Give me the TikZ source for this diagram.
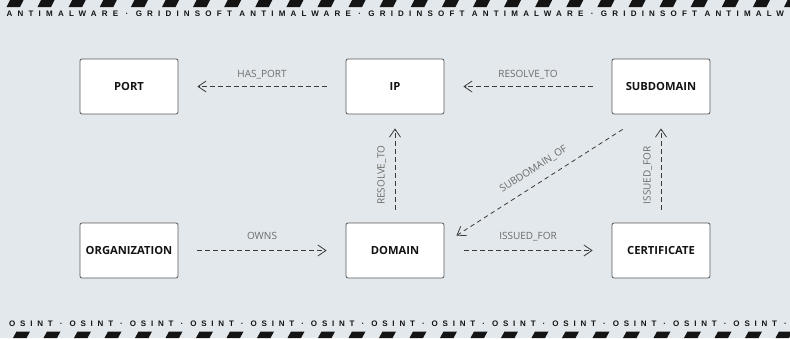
\documentclass[tikz,border=0pt]{standalone}
\usepackage{fontspec}
\setmainfont{Open Sans}
\newfontfamily\bannerA[LetterSpace=65]{Liberation Sans}
\newfontfamily\bannerB[LetterSpace=60]{Liberation Sans}
\usetikzlibrary{arrows.meta,calc}
\definecolor{bg}{HTML}{E3E8EC}
\definecolor{stripe}{HTML}{141414}
\definecolor{boxborder}{HTML}{5A5A5A}
\definecolor{boxtext}{HTML}{141414}
\definecolor{arrowc}{HTML}{3A3A3A}
\definecolor{lblc}{HTML}{6A6A6A}
\begin{document}
\begin{tikzpicture}[x=1pt,y=-1pt,
  entity/.style={draw=boxborder, fill=white, rounded corners=2pt, line width=0.8pt,
    minimum width=98pt, minimum height=55pt, inner sep=0pt,
    font=\fontsize{11.2}{13}\selectfont\bfseries, text=boxtext},
  rel/.style={draw=arrowc, line width=0.8pt, dash pattern=on 4.5pt off 3.5pt,
    -{Straight Barb[length=8pt,width=11pt]}},
  lbl/.style={font=\fontsize{10}{12}\selectfont, text=lblc, inner xsep=0pt,
    text depth=0pt, anchor=south},
  band/.style={fill=stripe, draw=none},
  bandtext/.style={anchor=base west, inner sep=0pt, text=stripe}
]
\path[use as bounding box, fill=bg] (0,0) rectangle (790,338);
\begin{scope}
  \clip (0,0) rectangle (790,338);
  \foreach \i in {0,...,26} {
    \fill[band] ({6.5+31.1*\i+3.5},0) -- ({6.5+31.1*\i+17},0) -- ({6.5+31.1*\i+13.5},7) -- ({6.5+31.1*\i},7) -- cycle;
  }
  \foreach \i in {0,...,26} {
    \fill[band] ({13+30.5*\i+3.5},331.5) -- ({13+30.5*\i+17},331.5) -- ({13+30.5*\i+13.5},338) -- ({13+30.5*\i},338) -- cycle;
  }
  \node[bandtext, font=\bannerA\fontsize{8}{9}\selectfont\bfseries] (toptext) at (6.5,16.7)
    {ANTIMALWARE · GRIDINSOFT ANTIMALWARE · GRIDINSOFT ANTIMALWARE · GRIDINSOFT ANTIMALW};
  \node[bandtext, font=\bannerB\fontsize{8}{9}\selectfont\bfseries] (bottext) at (9,326.7)
    {OSINT · OSINT · OSINT · OSINT · OSINT · OSINT · OSINT · OSINT · OSINT · OSINT · OSINT · OSINT · OSINT ·};
\end{scope}

\node[entity] (port) at (129,86.5) {PORT};
\node[entity] (ip)   at (395,86.5) {IP};
\node[entity] (sub)  at (661,86.5) {SUBDOMAIN};
\node[entity] (org)  at (129,250.5) {ORGANIZATION};
\node[entity] (dom)  at (395,250.5) {DOMAIN};
\node[entity] (cert) at (661,250.5) {CERTIFICATE};

\draw[rel, shorten <=19pt, shorten >=19pt] (ip) -- node[lbl, inner ysep=9pt] {HAS\_PORT} (port);
\draw[rel, shorten <=19pt, shorten >=19pt] (sub) -- node[lbl, inner ysep=9pt] {RESOLVE\_TO} (ip);
\draw[rel, shorten <=13pt, shorten >=14pt] (dom) -- node[lbl, pos=0.436, rotate=90, inner ysep=10pt] {RESOLVE\_TO} (ip);
\draw[rel, shorten <=13pt, shorten >=14pt] (cert) -- node[lbl, pos=0.436, rotate=90, inner ysep=10pt] {ISSUED\_FOR} (sub);
\draw[rel] ($(sub.south west)+(11,15)$) -- node[lbl, pos=0.49, sloped, inner ysep=11pt] {SUBDOMAIN\_OF} ($(dom.north east)+(12,13)$);
\draw[rel, shorten <=19pt, shorten >=19pt] (org) -- node[lbl, inner ysep=11pt] {OWNS} (dom);
\draw[rel, shorten <=20pt, shorten >=19pt] (dom) -- node[lbl, inner ysep=11pt] {ISSUED\_FOR} (cert);
\end{tikzpicture}
\end{document}
